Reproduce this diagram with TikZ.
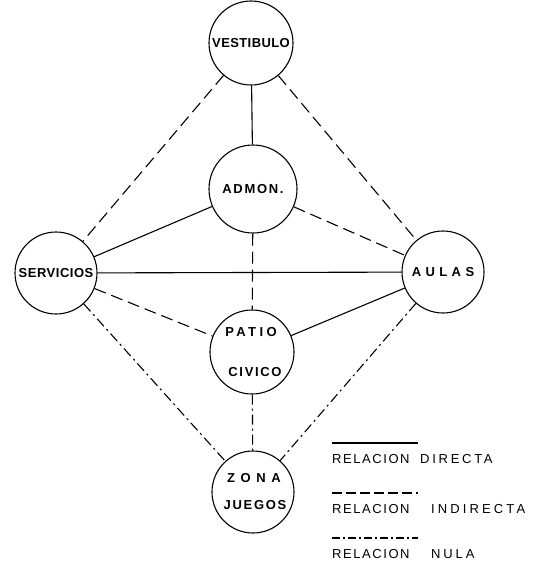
\documentclass[tikz,border=0pt]{standalone}
\usepackage{fontspec}
\setmainfont{Liberation Sans}
\newcommand{\lsp}[2]{{\addfontfeature{LetterSpace=#1}#2}}
\begin{document}
\begin{tikzpicture}[x=1pt,y=-1pt,
  place/.style={circle,draw,line width=1.1pt,minimum size=82pt,inner sep=0pt,font=\fontsize{13}{15}\selectfont\bfseries},
  lbl/.style={inner sep=0pt,font=\fontsize{13}{15}\selectfont\bfseries},
  direct/.style={line width=1.1pt},
  indirect/.style={line width=1.1pt,dash pattern=on 12pt off 6pt},
  nula/.style={line width=1.1pt,dash pattern=on 10pt off 4pt on 2pt off 4pt},
  legline/.style={line width=1.6pt},
  legtext/.style={anchor=west,inner sep=0pt,font=\fontsize{13}{15}\selectfont}
]
\useasboundingbox (0,0) rectangle (547,563);
\node[place,minimum size=84pt] (v) at (251,43) {\lsp{3}{VESTIBULO}};
\node[place,minimum size=88pt] (a) at (253,189) {\lsp{13}{ADMON.}};
\node[place] (s) at (56,273) {\lsp{4}{SERVICIOS}};
\node[place] (au) at (443,272) {\lsp{34}{AULAS}};
\node[place,minimum size=84pt] (p) at (252,352) {};
\node[lbl] (p1) at (251,332) {\lsp{26}{PATIO}};
\node[lbl] (p2) at (255,372) {\lsp{13}{CIVICO}};
\node[place] (z) at (253,492) {};
\node[lbl] (z1) at (254,478) {\lsp{43}{ZONA}};
\node[lbl] (z2) at (255,505) {\lsp{13}{JUEGOS}};

\draw[direct] (v) -- (a);
\draw[direct] (a) -- (s);
\draw[direct] (s) -- (au);
\draw[direct] (p) -- (au);
\draw[indirect] (v) -- (s);
\draw[indirect] (v) -- (au);
\draw[indirect] (a) -- (au);
\draw[indirect] (a) -- (p);
\draw[indirect] (s) -- (p);
\draw[nula] (s) -- (z);
\draw[nula] (au) -- (z);
\draw[nula] (p) -- (z);

\coordinate (l1a) at (332,443); \coordinate (l1b) at (418,443);
\coordinate (l2a) at (332,493); \coordinate (l2b) at (418,493);
\coordinate (l3a) at (332,538); \coordinate (l3b) at (418,538);
\draw[legline] (l1a) -- (l1b);
\draw[legline,dash pattern=on 10pt off 4pt] (l2a) -- (l2b);
\draw[legline,dash pattern=on 8pt off 3pt on 2pt off 3pt] (l3a) -- (l3b);
\node[legtext] (t1) at (332,459) {\makebox[88pt][l]{\lsp{12}{RELACION}}\lsp{21}{DIRECTA}};
\node[legtext] (t2) at (332,509) {\makebox[99pt][l]{\lsp{12}{RELACION}}\lsp{24}{INDIRECTA}};
\node[legtext] (t3) at (332,554) {\makebox[99pt][l]{\lsp{12}{RELACION}}\lsp{22}{NULA}};
\end{tikzpicture}
\end{document}
